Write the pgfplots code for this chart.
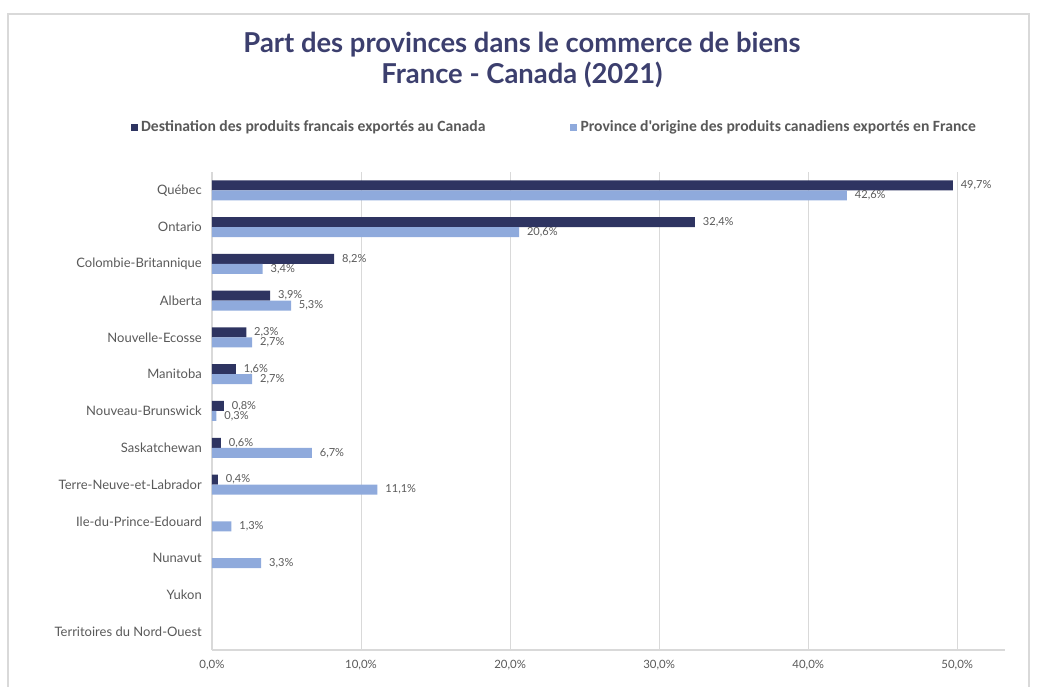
\documentclass[border=0pt]{standalone}
\usepackage{pgfplots}
\pgfplotsset{compat=1.18}
\usepackage{fontspec}
\setmainfont{Lato}
\newfontfamily\legfont{Carlito}
\definecolor{dark}{HTML}{2E3461}
\definecolor{light}{HTML}{8FAADC}
\definecolor{titlec}{HTML}{3C3F6E}
\definecolor{txt}{HTML}{595959}
\definecolor{gridc}{HTML}{D9D9D9}
\begin{document}
\begin{tikzpicture}
\useasboundingbox (0,0) rectangle (20.74,13.74);
\draw[gridc, line width=0.8pt] (0.16,-0.5) -- (0.16,13.46) -- (20.58,13.46) -- (20.58,-0.5);
\node[font=\bfseries\fontsize{15.6}{17.6}\selectfont, text=titlec, align=center] at (10.44,12.54) {Part des provinces dans le commerce de biens\\France - Canada (2021)};
\begin{axis}[
  at={(4.24cm,0.74cm)}, anchor=south west, scale only axis,
  width=15.86cm, height=9.56cm,
  xmin=0, xmax=53.2, ymin=-0.5, ymax=12.5,
  ytick={0,...,12},
  yticklabels={Territoires du Nord-Ouest, Yukon, Nunavut, Ile-du-Prince-Edouard, Terre-Neuve-et-Labrador, Saskatchewan, Nouveau-Brunswick, Manitoba, Nouvelle-Ecosse, Alberta, Colombie-Britannique, Ontario, Québec},
  xtick={0,10,...,50},
  xticklabels={{0,0\%},{10,0\%},{20,0\%},{30,0\%},{40,0\%},{50,0\%}},
  xmajorgrids, grid style={gridc, line width=0.6pt},
  axis lines*=left, axis line style={gridc, line width=0.6pt},
  major tick length=0pt,
  yticklabel style={font=\fontsize{7.4}{9}\selectfont, text=txt, xshift=-0.08cm},
  xticklabel style={font=\fontsize{6.5}{8}\selectfont, text=txt, yshift=-0.08cm},
  xbar, bar width=0.2cm,
  point meta=x,
  nodes near coords={\pgfmathprintnumber[fixed,fixed zerofill,precision=1,use comma,assume math mode=true]{\pgfplotspointmeta}\%},
  every node near coord/.append style={font=\fontsize{6.3}{8}\selectfont, text=txt, anchor=west, xshift=1pt},
  legend columns=2,
  legend style={at={(0.4325,1.094)}, anchor=center, draw=none, fill=none,
    font=\legfont\bfseries\fontsize{8.9}{10}\selectfont, text=txt,
    /tikz/every even column/.append style={column sep=1.62cm}},
  legend image code/.code={\fill[#1] (0cm,-0.07cm) rectangle (0.14cm,0.07cm);},
]
\addplot[draw=none, fill=dark, bar shift=0.1cm] coordinates {
 (49.7,12) (32.4,11) (8.2,10) (3.9,9) (2.3,8) (1.6,7) (0.8,6) (0.6,5) (0.4,4)};
\addlegendentry{Destination des produits francais exportés au Canada}
\addplot[draw=none, fill=light, bar shift=-0.1cm] coordinates {
 (42.6,12) (20.6,11) (3.4,10) (5.3,9) (2.7,8) (2.7,7) (0.3,6) (6.7,5) (11.1,4) (1.3,3) (3.3,2)};
\addlegendentry{Province d'origine des produits canadiens exportés en France}
\end{axis}
\end{tikzpicture}
\end{document}
